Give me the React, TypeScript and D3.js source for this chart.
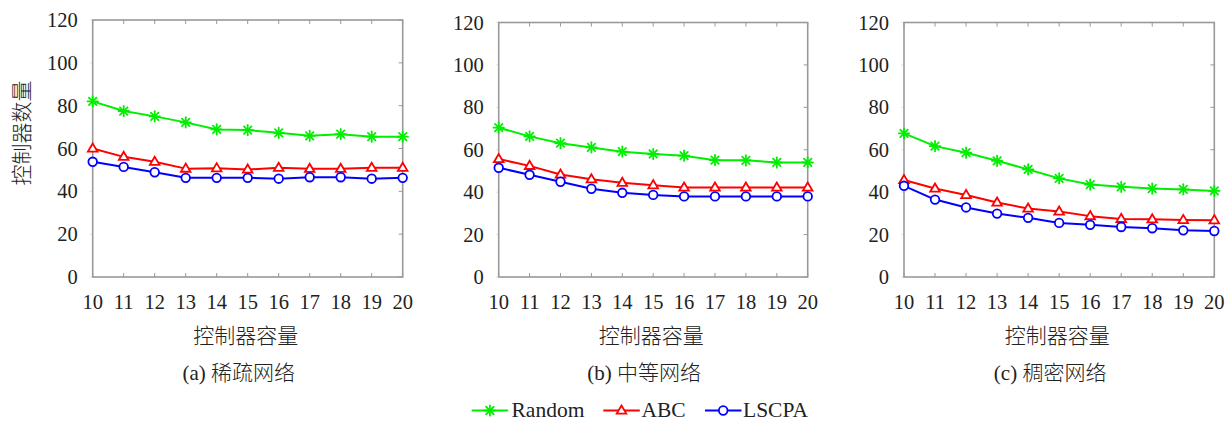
import React from "react";
import * as d3 from "d3";

const capacities = [10, 11, 12, 13, 14, 15, 16, 17, 18, 19, 20];
const yTicks = [0, 20, 40, 60, 80, 100, 120];

const panelCaptions = ["(a)", "(b)", "(c)"];
const panelNames = ["稀疏网络", "中等网络", "稠密网络"];

const sparseRandom = [82, 77.5, 75, 72.2, 68.9, 68.6, 67.3, 65.9, 66.7, 65.5, 65.5];
const sparseABC = [60, 56.1, 53.8, 50.6, 50.8, 50.2, 51, 50.5, 50.5, 51, 51];
const sparseLSCPA = [53.8, 51.4, 48.9, 46.3, 46.3, 46.3, 45.9, 46.6, 46.6, 45.9, 46.3];

const mediumRandom = [70.4, 66.3, 63.1, 61.1, 59.1, 58, 57.2, 55.1, 55, 54, 54];
const mediumABC = [55.6, 52.4, 48.3, 46.1, 44.4, 43.3, 42.2, 42.2, 42.2, 42.2, 42.2];
const mediumLSCPA = [51.5, 48.2, 44.9, 41.6, 39.7, 38.7, 38, 38, 38, 38, 38];

const denseRandom = [67.7, 61.7, 58.6, 54.8, 50.7, 46.5, 43.6, 42.5, 41.7, 41.3, 40.6];
const denseABC = [45.7, 41.7, 38.7, 35.1, 32.3, 30.9, 28.7, 27.4, 27.2, 26.9, 26.8];
const denseLSCPA = [43, 36.5, 32.8, 29.9, 27.9, 25.5, 24.6, 23.6, 23, 22, 21.7];

const seriesNames = ["Random", "ABC", "LSCPA"];
const seriesColors = ["#00ee00", "#ff0000", "#0000ff"];
const panelData = [
  [sparseRandom, sparseABC, sparseLSCPA],
  [mediumRandom, mediumABC, mediumLSCPA],
  [denseRandom, denseABC, denseLSCPA],
];

const yAxisTitle = "控制器数量";
const xAxisTitle = "控制器容量";

const SERIF = "Liberation Serif, Times New Roman, serif";
const CJK = "Noto Sans CJK SC, sans-serif";

const panels = [
  { left: 92.7, right: 402.7, top: 20, bottom: 277 },
  { left: 498.7, right: 807.7, top: 22.5, bottom: 277 },
  { left: 904, right: 1214.3, top: 22.5, bottom: 277 },
];

function Marker({ kind, x, y, color }: { kind: number; x: number; y: number; color: string }) {
  if (kind === 0) {
    const r = 5.2;
    const d = r * 0.72;
    return (
      <g stroke={color} strokeWidth={1.8} strokeLinecap="round">
        <line x1={x - r} y1={y} x2={x + r} y2={y} />
        <line x1={x} y1={y - r} x2={x} y2={y + r} />
        <line x1={x - d} y1={y - d} x2={x + d} y2={y + d} />
        <line x1={x - d} y1={y + d} x2={x + d} y2={y - d} />
      </g>
    );
  }
  if (kind === 1) {
    const s = 4.8;
    const pts = `${x},${y - s * 1.05} ${x - s},${y + s * 0.65} ${x + s},${y + s * 0.65}`;
    return <polygon points={pts} fill="white" stroke={color} strokeWidth={1.8} strokeLinejoin="miter" />;
  }
  return <circle cx={x} cy={y} r={4.3} fill="white" stroke={color} strokeWidth={1.8} />;
}

function Panel({ idx }: { idx: number }) {
  const p = panels[idx];
  const x = d3.scaleLinear().domain([10, 20]).range([p.left, p.right]);
  const y = d3.scaleLinear().domain([0, 120]).range([p.bottom, p.top]);
  const line = d3
    .line<number>()
    .x((_, i) => x(capacities[i]))
    .y((v) => y(v));
  const cx = (p.left + p.right) / 2;
  const axisColor = "#999999";
  const tickLen = 4;
  return (
    <g>
      {capacities.map((c) => (
        <g key={"xt" + c} stroke={axisColor} strokeWidth={1}>
          <line x1={x(c)} x2={x(c)} y1={p.top} y2={p.top + tickLen} />
          <line x1={x(c)} x2={x(c)} y1={p.bottom} y2={p.bottom - tickLen} />
        </g>
      ))}
      {yTicks.map((t) => (
        <g key={"yt" + t} stroke={axisColor} strokeWidth={1}>
          <line x1={p.right} x2={p.right - tickLen} y1={y(t)} y2={y(t)} />
          <line x1={p.left} x2={p.left - 3} y1={y(t)} y2={y(t)} stroke="#e4e4e4" />
        </g>
      ))}
      <rect
        x={p.left}
        y={p.top}
        width={p.right - p.left}
        height={p.bottom - p.top}
        fill="none"
        stroke={axisColor}
        strokeWidth={1.6}
      />
      {yTicks.map((t) => (
        <text
          key={"yl" + t}
          x={p.left - 15}
          y={y(t) + 7}
          textAnchor="end"
          style={{ fontFamily: SERIF, fontSize: "20.5px" }}
          fill="#222"
        >
          {t}
        </text>
      ))}
      {capacities.map((c) => (
        <text
          key={"xl" + c}
          x={x(c)}
          y={308.5}
          textAnchor="middle"
          style={{ fontFamily: SERIF, fontSize: "20.5px" }}
          fill="#222"
        >
          {c}
        </text>
      ))}
      {panelData[idx].map((vals, si) => (
        <g key={"s" + si}>
          <path d={line(vals) || ""} fill="none" stroke={seriesColors[si]} strokeWidth={2} strokeLinejoin="round" />
          {vals.map((v, i) => (
            <Marker key={i} kind={si} x={x(capacities[i])} y={y(v)} color={seriesColors[si]} />
          ))}
        </g>
      ))}
      <text
        x={cx - 2}
        y={342.5}
        textAnchor="middle"
        style={{ fontFamily: CJK, fontSize: "21px", fontWeight: 300 }}
        fill="#222"
      >
        {xAxisTitle}
      </text>
      <text x={cx - 9} y={380} textAnchor="middle" fill="#222" style={{ fontSize: "21px" }}>
        <tspan style={{ fontFamily: SERIF }}>{panelCaptions[idx] + " "}</tspan>
        <tspan style={{ fontFamily: CJK, fontWeight: 300 }}>{panelNames[idx]}</tspan>
      </text>
    </g>
  );
}

const legendItems = [
  { lineX: 471.7, textX: 511.5 },
  { lineX: 603.3, textX: 641.5 },
  { lineX: 705, textX: 743 },
];

export default function App() {
  const ly = 410.5;
  return (
    <svg
      width={1232}
      height={421}
      style={{ position: "absolute", left: 0, top: 0, background: "white" }}
    >
      <rect width={1232} height={421} fill="white" />
      {panels.map((_, i) => (
        <Panel key={i} idx={i} />
      ))}
      <text
        transform={`translate(29.3,133) rotate(-90)`}
        textAnchor="middle"
        style={{ fontFamily: CJK, fontSize: "21px", fontWeight: 300 }}
        fill="#222"
      >
        {yAxisTitle}
      </text>
      {seriesNames.map((name, si) => {
        const it = legendItems[si];
        return (
          <g key={name}>
            <line x1={it.lineX} x2={it.lineX + 36.5} y1={ly} y2={ly} stroke={seriesColors[si]} strokeWidth={2} />
            <Marker kind={si} x={it.lineX + 18.2} y={ly} color={seriesColors[si]} />
            <text x={it.textX} y={ly + 6.5} style={{ fontFamily: SERIF, fontSize: "21.5px" }} fill="#222">
              {name}
            </text>
          </g>
        );
      })}
    </svg>
  );
}
